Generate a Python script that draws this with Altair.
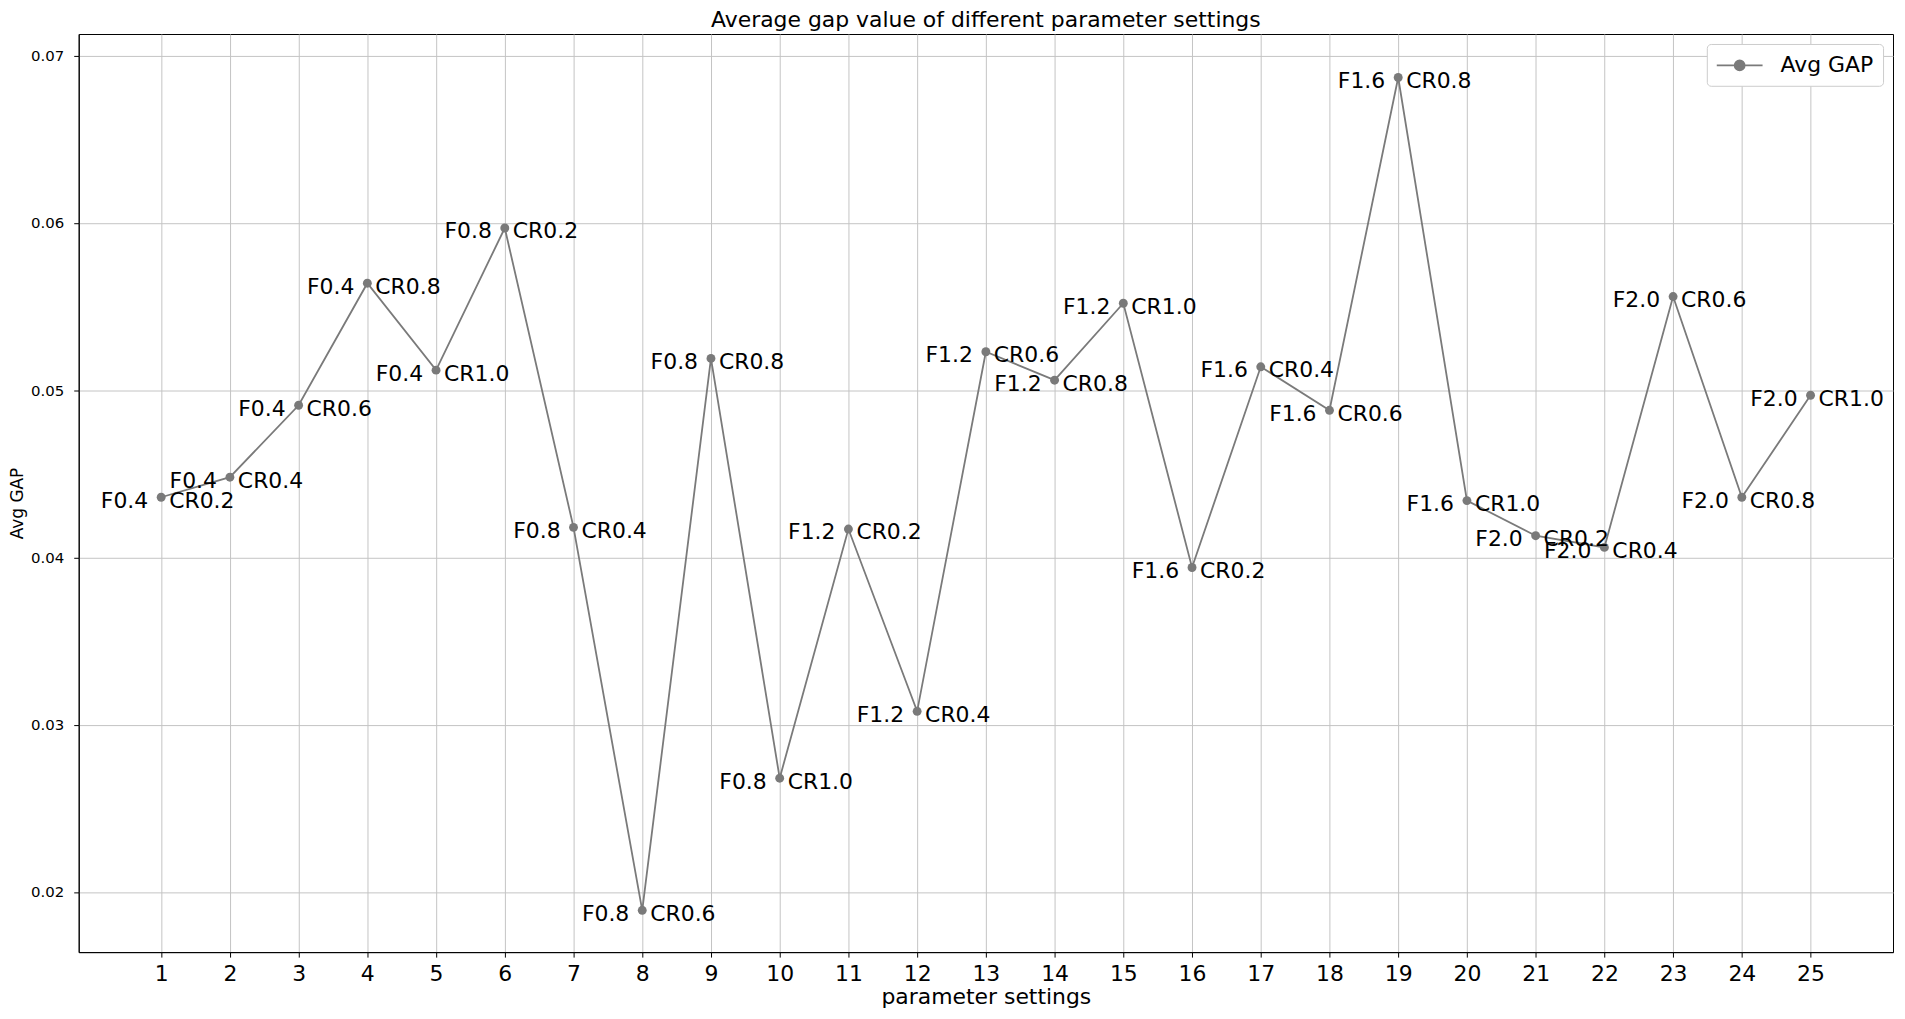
import altair as alt
import pandas as pd

settings = list(range(1, 26))
avg_gap = [0.0436, 0.0448, 0.0491, 0.0564, 0.0512,
           0.0597, 0.0418, 0.0189, 0.0519, 0.0268,
           0.0417, 0.0308, 0.0523, 0.0506, 0.0552,
           0.0394, 0.0514, 0.0488, 0.0687, 0.0434,
           0.0413, 0.0406, 0.0556, 0.0436, 0.0497]
f_labels = ["F0.4"] * 5 + ["F0.8"] * 5 + ["F1.2"] * 5 + ["F1.6"] * 5 + ["F2.0"] * 5
cr_labels = ["CR0.2", "CR0.4", "CR0.6", "CR0.8", "CR1.0"] * 5
y_ticks = [0.02, 0.03, 0.04, 0.05, 0.06, 0.07]

df = pd.DataFrame({"setting": settings, "gap": avg_gap, "f": f_labels,
                   "cr": cr_labels, "series": ["Avg GAP"] * len(settings)})

FONT = "DejaVu Sans"
GRAY = "#7a7a7a"

x_enc = alt.X("setting:Q",
              scale=alt.Scale(domain=[-0.2, 26.2], nice=False, zero=False),
              axis=alt.Axis(values=settings, format="d", title="parameter settings",
                            labelFontSize=22, titleFontSize=22, labelPadding=6,
                            titleY=52, titleBaseline="alphabetic"))
y_enc = alt.Y("gap:Q",
              scale=alt.Scale(domain=[0.0164, 0.0713], nice=False, zero=False),
              axis=alt.Axis(values=y_ticks, format=".2f", title="Avg GAP",
                            labelFontSize=15, titleFontSize=17, labelPadding=10,
                            titleX=-56, titleY=471, titleAngle=270,
                            titleAlign="center", titleBaseline="alphabetic"))

base = alt.Chart(df).encode(x=x_enc, y=y_enc)

line = base.mark_line(color=GRAY, strokeWidth=1.8)

legend_path = ("M-1,0H3M0.565,0A0.435,0.435,0,1,1,1.435,0"
               "A0.435,0.435,0,1,1,0.565,0Z")
points = base.mark_circle(size=80, opacity=1).encode(
    color=alt.Color("series:N", scale=alt.Scale(range=[GRAY]),
                    legend=alt.Legend(title=None, orient="none", legendX=1635, legendY=10,
                                      padding=9, fillColor="white", strokeColor="#cccccc",
                                      cornerRadius=4, labelFontSize=22, labelFont=FONT,
                                      labelColor="black", labelOffset=40,
                                      symbolType=legend_path, symbolSize=529,
                                      symbolStrokeColor=GRAY, symbolStrokeWidth=1.8,
                                      symbolFillColor=GRAY))
)

f_text = base.mark_text(align="right", baseline="middle", dx=-13, dy=3.5,
                        fontSize=22, font=FONT, color="black").encode(text="f:N")
cr_text = base.mark_text(align="left", baseline="middle", dx=8, dy=3.5,
                         fontSize=22, font=FONT, color="black").encode(text="cr:N")

chart = alt.layer(line, points, f_text, cr_text).properties(
    width=1822, height=922,
    title=alt.TitleParams("Average gap value of different parameter settings",
                          fontSize=22, font=FONT, fontWeight="normal", anchor="middle",
                          frame="group", offset=2, color="black"),
    padding={"left": 71, "top": 24, "right": 4, "bottom": 57},
    autosize=alt.AutoSizeParams(type="none"),
).configure_axis(
    gridColor="#c4c4c4", gridWidth=1, domainColor="black", domainWidth=1,
    tickColor="black", tickSize=5, tickWidth=1, labelColor="black", titleColor="black",
    labelFont=FONT, titleFont=FONT, titleFontWeight="normal",
).configure_view(stroke="black", strokeWidth=1)

chart.save("out.html", embed_options={"renderer": "svg", "actions": False})
